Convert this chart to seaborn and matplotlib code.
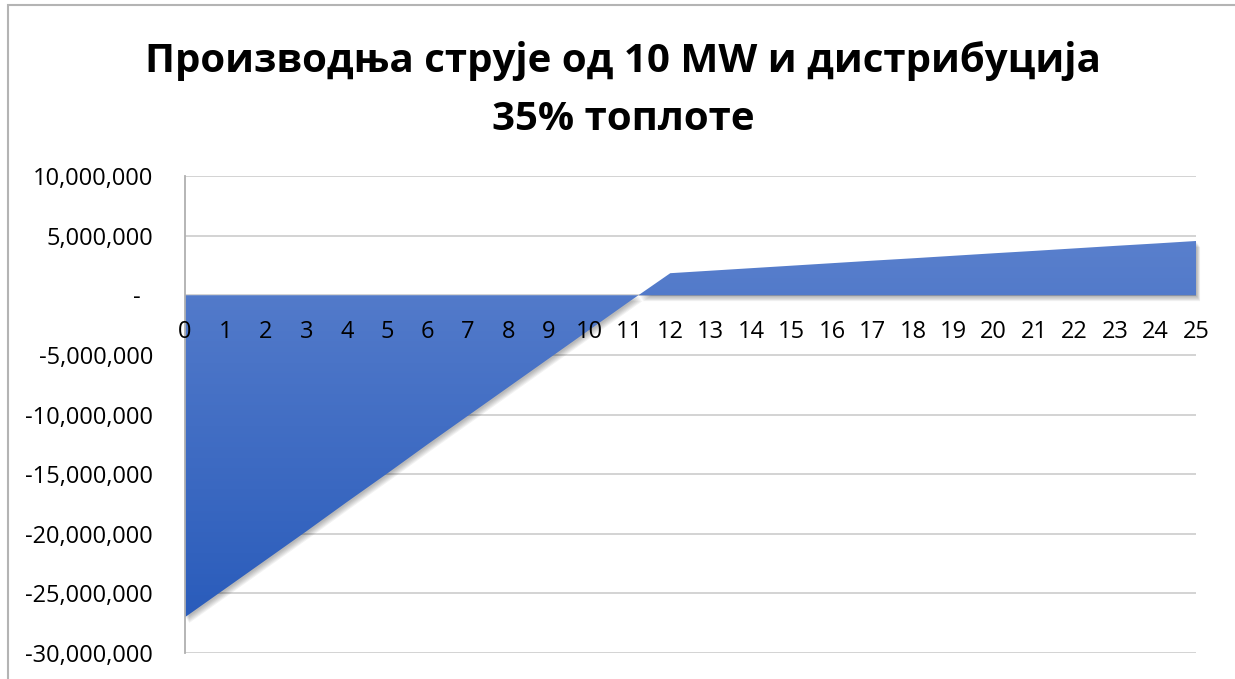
#!/usr/bin/env python3
"""Cumulative cash flow: 10 MW power production with 35% heat distribution."""

import numpy as np
import matplotlib
matplotlib.use("Agg")
import matplotlib.pyplot as plt
import matplotlib.transforms as mtransforms
from matplotlib.colors import LinearSegmentedColormap
from matplotlib.patches import Rectangle
from matplotlib.ticker import FuncFormatter, MultipleLocator
import seaborn as sns

# Data (years and cumulative value)
years = list(range(0, 26))
values = [
    -27_000_000, -24_600_000, -22_200_000, -19_800_000, -17_350_000,
    -14_950_000, -12_500_000, -10_100_000, -7_700_000, -5_300_000,
    -2_900_000, -500_000, 1_850_000, 2_060_000, 2_270_000,
    2_480_000, 2_690_000, 2_900_000, 3_100_000, 3_310_000,
    3_520_000, 3_720_000, 3_930_000, 4_140_000, 4_340_000,
    4_550_000,
]
title_lines = ["Производња струје од 10 MW и дистрибуција", "35% топлоте"]

# Style
sns.set_style("white")
plt.rcParams["font.family"] = ["Open Sans", "DejaVu Sans"]
plt.rcParams["text.color"] = "black"

W, H = 1235, 679
fig = plt.figure(figsize=(W / 100, H / 100), dpi=100)
ax = fig.add_axes([185 / W, 1 - 653 / H, (1196 - 185) / W, (653 - 176) / H])

x = np.array(years, dtype=float)
y = np.array(values, dtype=float)

# soft drop shadow (offset copies of the area)
for k in range(1, 7):
    off = mtransforms.ScaledTranslation(k * 0.6 / 100, -k * 0.9 / 100, fig.dpi_scale_trans)
    ax.fill_between(x, y, 0, color="black", alpha=0.05, linewidth=0,
                    transform=ax.transData + off, zorder=0.8, clip_on=False)

# area with vertical gradient
area = ax.fill_between(x, y, 0, facecolor="none", edgecolor="none", zorder=1)
cmap = LinearSegmentedColormap.from_list("blues", ["#2a5cbb", "#5a80cd"])
grad = np.linspace(0, 1, 256).reshape(-1, 1)
im = ax.imshow(grad, cmap=cmap, aspect="auto", origin="lower",
               extent=[0, 25, -27_000_000, 5_000_000], zorder=1,
               interpolation="bilinear")
im.set_clip_path(area.get_paths()[0], transform=ax.transData)
sns.lineplot(x=years, y=values, ax=ax, color="#4d74c6", linewidth=0)

ax.set_xlim(0, 25)
ax.set_ylim(-30_000_000, 10_000_000)
ax.yaxis.set_major_locator(MultipleLocator(5_000_000))
ax.set_xticks(years)


def fmt(v, pos):
    if abs(v) < 1:
        return "-  "
    return f"{v:,.0f}"


ax.yaxis.set_major_formatter(FuncFormatter(fmt))
ax.grid(axis="y", color="#d0d0d0", linewidth=1.3)
ax.grid(axis="x", visible=False)
# gridlines behind the area, x labels on top of it
ax.yaxis.set_zorder(0.5)
ax.xaxis.set_zorder(3)

for side in ["top", "right"]:
    ax.spines[side].set_visible(False)
ax.spines["left"].set_color("#b0b0b0")
ax.spines["left"].set_linewidth(1.3)
ax.spines["bottom"].set_position(("data", 0))
ax.spines["bottom"].set_visible(False)

ax.tick_params(axis="x", length=0, pad=17.5, labelsize=17, labelcolor="black")
ax.tick_params(axis="y", length=0, pad=23, labelsize=17, labelcolor="black")
ax.set_xlabel("")
ax.set_ylabel("")

fig.text(623 / W, 1 - 72 / H, title_lines[0], ha="center", va="baseline",
         fontsize=29, fontweight="bold")
fig.text(623 / W, 1 - 130 / H, title_lines[1], ha="center", va="baseline",
         fontsize=29, fontweight="bold")

# chart frame
fig.patches.append(Rectangle((8 / W, -0.05), 1.2, 1 - 5 / H + 0.05,
                             transform=fig.transFigure, fill=False,
                             edgecolor="#b4b4b4", linewidth=1.5))

plt.savefig("out.png", dpi=100)
plt.close()
